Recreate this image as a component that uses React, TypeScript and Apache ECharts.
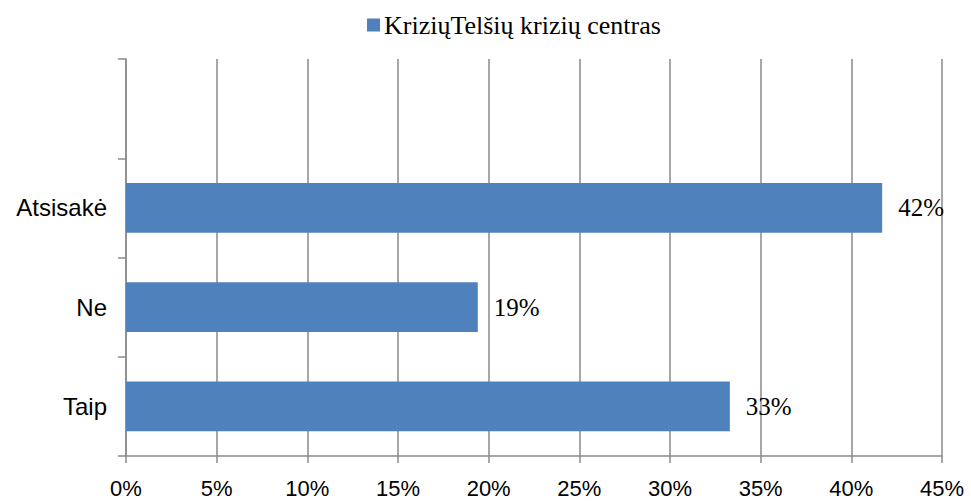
import React, { useEffect, useRef } from "react";
import * as echarts from "echarts";

const categories = ["Taip", "Ne", "Atsisakė", ""];
const values = [33.3, 19.4, 41.7, null];
const seriesName = "KriziųTelšių krizių centras";
const xTicks = { min: 0, max: 45, interval: 5 };

export default function App() {
  const ref = useRef<HTMLDivElement>(null);
  useEffect(() => {
    document.body.style.margin = "0";
    const chart = echarts.init(ref.current!, null, { renderer: "svg" });
    const gray = "#8a8a8a";
    chart.setOption({
      animation: false,
      legend: {
        data: [seriesName],
        top: 7,
        left: 362,
        icon: "rect",
        itemWidth: 13,
        itemHeight: 13,
        itemGap: 4,
        textStyle: { fontFamily: "Liberation Serif", fontSize: 26, lineHeight: 26, color: "#000", padding: [0, 0, 0, -1] },
      },
      grid: { left: 126, right: 29, top: 59, bottom: 45 },
      xAxis: {
        type: "value",
        min: xTicks.min,
        max: xTicks.max,
        interval: xTicks.interval,
        axisLine: { show: true, lineStyle: { color: gray, width: 1.5 } },
        axisTick: { show: true, length: 7, lineStyle: { color: gray, width: 1.5 } },
        splitLine: { show: true, lineStyle: { color: gray, width: 1.5 } },
        axisLabel: {
          formatter: "{value}%",
          fontFamily: "Liberation Sans",
          fontSize: 22,
          color: "#000",
          margin: 21,
        },
      },
      yAxis: {
        type: "category",
        data: categories,
        axisLine: { show: true, lineStyle: { color: gray, width: 1.5 } },
        axisTick: { show: true, length: 8, lineStyle: { color: gray, width: 1.5 } },
        splitLine: { show: false },
        axisLabel: {
          fontFamily: "Liberation Sans",
          fontSize: 24,
          color: "#000",
          margin: 19,
        },
      },
      series: [
        {
          name: seriesName,
          type: "bar",
          data: values,
          barCategoryGap: "50%",
          itemStyle: { color: "#4F81BD" },
          label: {
            show: true,
            position: "right",
            distance: 16,
            formatter: (p: any) => Math.round(p.value) + "%",
            fontFamily: "Liberation Serif",
            fontSize: 25,
            color: "#000",
          },
        },
      ],
    });
    return () => chart.dispose();
  }, []);
  return <div ref={ref} style={{ width: 971, height: 501 }} />;
}
